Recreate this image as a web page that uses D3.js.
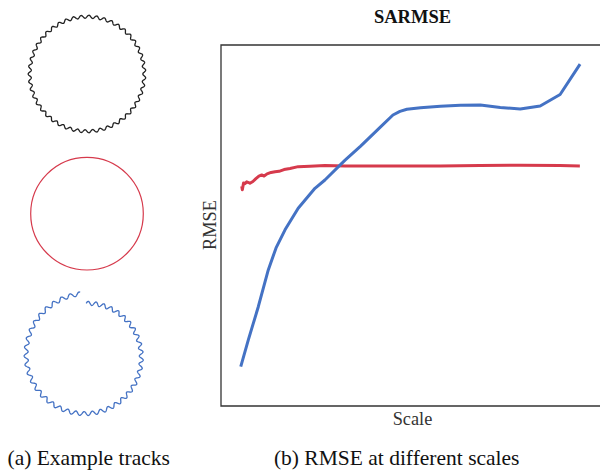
<!DOCTYPE html>
<html>
<head>
<meta charset="utf-8">
<script src="https://cdn.jsdelivr.net/npm/d3@7"></script>
<style>
  body { margin: 0; background: #fff; }
  text { font-family: "Liberation Serif", "Times New Roman", serif; }
</style>
</head>
<body>
<div id="chart"></div>
<script>
// Blue curve (denser where it bends)
var blueScale = [0.99, 1.37, 1.87, 2.37, 2.76, 3.21, 3.87, 4.71, 5.21, 6.22, 7, 8, 8.62, 8.97, 9.32, 10, 11, 12, 13, 14, 15, 16, 17, 18];
var blueRmse = [1.09, 1.83, 2.75, 3.77, 4.38, 4.88, 5.48, 6.03, 6.26, 6.81, 7.2, 7.73, 8.06, 8.16, 8.22, 8.26, 8.3, 8.33, 8.34, 8.27, 8.23, 8.31, 8.63, 9.47];

// Red curve: denser samples, noisy at the start
var redScale = [1.04, 1.07, 1.13, 1.2, 1.29, 1.38, 1.45, 1.6, 1.75, 1.9, 2.04, 2.16, 2.31, 2.51, 2.71, 2.91, 3.16, 3.46, 3.87, 4.46, 5.21, 6.22, 8.97, 10.98, 12.98, 14.99, 16.99, 17.99];
var redRmse = [6.09, 5.99, 6.18, 6.16, 6.21, 6.19, 6.17, 6.22, 6.3, 6.37, 6.4, 6.37, 6.43, 6.47, 6.49, 6.5, 6.55, 6.58, 6.63, 6.64, 6.66, 6.65, 6.65, 6.65, 6.66, 6.67, 6.66, 6.65];

// Example tracks: wiggle count
var trackNames = ["noisy", "clean", "drifting"];
var trackWiggles = [47, 0, 43];

var titleText = "SARMSE";
var xLabel = "Scale";
var yLabel = "RMSE";
var captions = ["(a) Example tracks", "(b) RMSE at different scales"];

var blue = "#4472c4",
  red = "#d63a4c";

var svg = d3
  .select("#chart")
  .append("svg")
  .attr("width", 600)
  .attr("height", 472);

// ---- left panel: example tracks ----
var trackLine = d3
  .lineRadial()
  .angle((d) => d.a)
  .radius((d) => d.r);

// black noisy loop
var pts = [];
for (var i = 0; i <= 900; i++) {
  var a = (i / 900) * 2 * Math.PI;
  pts.push({ a: a, r: 57.3 + 1.5 * Math.sin(trackWiggles[0] * a) });
}
svg
  .append("path")
  .attr("transform", "translate(87,74)")
  .attr("d", trackLine(pts))
  .attr("fill", "none")
  .attr("stroke", "#222")
  .attr("stroke-width", 1.3);

// red clean circle
svg
  .append("circle")
  .attr("cx", 87)
  .attr("cy", 213.7)
  .attr("r", 56.3)
  .attr("fill", "none")
  .attr("stroke", red)
  .attr("stroke-width", 1.2);

// blue drifting spiral with a gap at the top
pts = [];
for (var i = 0; i <= 900; i++) {
  var t = (i / 900) * 0.985;
  var a = t * 2 * Math.PI;
  pts.push({ a: a, r: 52.6 + 10 * t + 2 * Math.sin(trackWiggles[2] * a) });
}
svg
  .append("path")
  .attr("transform", "translate(86.2,356)")
  .attr("d", trackLine(pts))
  .attr("fill", "none")
  .attr("stroke", blue)
  .attr("stroke-width", 1.3);

// ---- right panel: RMSE chart ----
var plotLeft = 221,
  plotRight = 604,
  plotTop = 45,
  plotBottom = 406;

var x = d3.scaleLinear().domain([0, 19.2]).range([plotLeft, plotRight]);
var y = d3.scaleLinear().domain([0, 10]).range([plotBottom, plotTop]);

// frame (top, left, bottom; right side falls outside the page)
svg
  .append("path")
  .attr(
    "d",
    "M" + plotRight + "," + plotTop + "H" + plotLeft + "V" + plotBottom + "H" + plotRight
  )
  .attr("fill", "none")
  .attr("stroke", "#333")
  .attr("stroke-width", 1.3);

var line = d3
  .line()
  .x((d) => x(d[0]))
  .y((d) => y(d[1]));

svg
  .append("path")
  .attr("d", line(d3.zip(redScale, redRmse)))
  .attr("fill", "none")
  .attr("stroke", red)
  .attr("stroke-width", 3)
  .attr("stroke-linejoin", "round");

svg
  .append("path")
  .attr("d", line(d3.zip(blueScale, blueRmse)))
  .attr("fill", "none")
  .attr("stroke", blue)
  .attr("stroke-width", 3)
  .attr("stroke-linejoin", "round");

var cx = (plotLeft + plotRight) / 2;

svg
  .append("text")
  .attr("x", cx)
  .attr("y", 22.7)
  .attr("text-anchor", "middle")
  .attr("font-size", 18.5)
  .attr("font-weight", "bold")
  .attr("fill", "#111")
  .text(titleText);

svg
  .append("text")
  .attr("x", cx)
  .attr("y", 425)
  .attr("text-anchor", "middle")
  .attr("font-size", 18.3)
  .attr("fill", "#333")
  .text(xLabel);

svg
  .append("text")
  .attr("transform", "translate(216,225) rotate(-90)")
  .attr("text-anchor", "middle")
  .attr("font-size", 18.3)
  .attr("fill", "#333")
  .text(yLabel);

// captions
svg
  .append("text")
  .attr("x", 88.7)
  .attr("y", 465)
  .attr("text-anchor", "middle")
  .attr("font-size", 21.5)
  .attr("fill", "#111")
  .text(captions[0]);

svg
  .append("text")
  .attr("x", 396.7)
  .attr("y", 465)
  .attr("text-anchor", "middle")
  .attr("font-size", 21.5)
  .attr("fill", "#111")
  .text(captions[1]);
</script>
</body>
</html>
